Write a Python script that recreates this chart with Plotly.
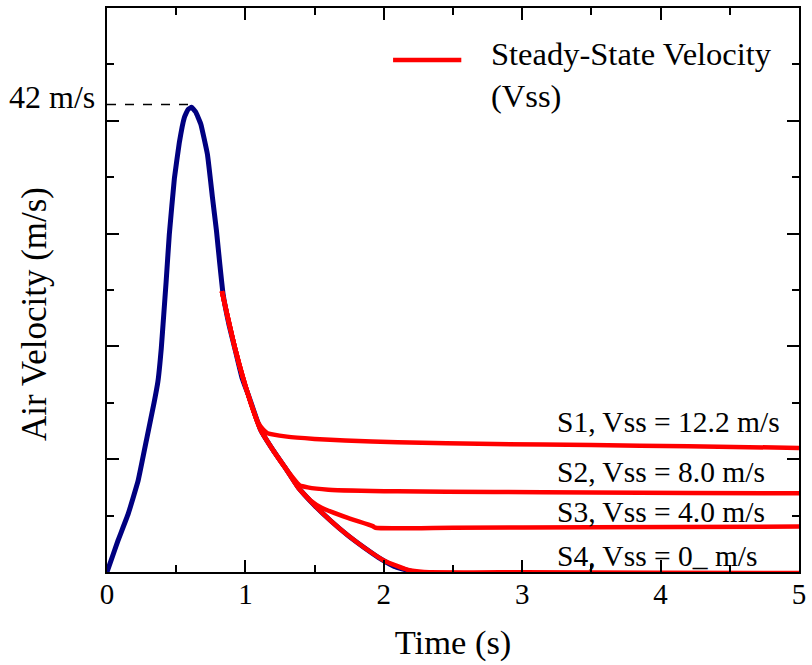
import plotly.graph_objects as go

# blue measured transient
t_blue = [0, 0.04, 0.08, 0.153, 0.225, 0.29, 0.34, 0.368, 0.392, 0.41, 0.427, 0.45, 0.487,
          0.523, 0.559, 0.585, 0.611, 0.64, 0.678, 0.726, 0.762, 0.791, 0.815, 0.838, 0.88,
          0.928, 0.976, 1.024, 1.11, 1.2, 1.29, 1.382, 1.5, 1.62, 1.74, 1.86, 1.96, 2.075,
          2.2, 2.3, 2.41]
v_blue = [0, 1.4, 2.8, 5.15, 8.1, 12.0, 15.0, 16.9, 19.8, 22.8, 25.7, 29.9, 34.9,
          38.1, 40.3, 41.0, 41.2, 40.8, 39.7, 37.0, 33.2, 30.25, 27.3, 24.7, 22.0,
          19.6, 17.2, 15.6, 12.6, 10.8, 9.2, 7.5, 5.9, 4.5, 3.25, 2.15, 1.3, 0.5,
          0.05, -0.15, -0.35]

# steady-state branches (red)
t_s1 = [0.83, 0.93, 1.02, 1.09, 1.13, 1.16, 1.3, 1.5, 1.72, 2.1, 2.8, 3.5, 4.2, 5.0]
v_s1 = [24.9, 19.6, 15.7, 13.3, 12.6, 12.3, 12.0, 11.8, 11.65, 11.5, 11.35, 11.25, 11.15, 11.0]

t_s2 = [0.83, 0.93, 1.02, 1.11, 1.2, 1.29, 1.39, 1.45, 1.6, 2.1, 2.8, 3.5, 4.2, 5.0]
v_s2 = [24.9, 19.6, 15.7, 12.6, 10.8, 9.2, 7.7, 7.5, 7.3, 7.15, 7.1, 7.05, 7.0, 6.98]

t_s3 = [0.83, 0.93, 1.02, 1.11, 1.2, 1.29, 1.38, 1.475, 1.55, 1.74, 1.92, 1.94, 2.5, 3.5, 5.0]
v_s3 = [24.9, 19.6, 15.7, 12.6, 10.8, 9.2, 7.5, 6.3, 5.7, 4.8, 4.07, 3.92, 3.93, 3.97, 4.03]

t_s4 = [0.83, 0.93, 1.02, 1.11, 1.2, 1.29, 1.38, 1.5, 1.62, 1.74, 1.86, 2.0, 2.17, 2.29,
        3.0, 4.0, 5.0]
v_s4 = [24.9, 19.6, 15.7, 12.6, 10.8, 9.2, 7.5, 5.9, 4.5, 3.25, 2.15, 1.03, 0.2, 0.0,
        -0.03, -0.06, -0.09]

labels = ["S1, Vss = 12.2 m/s", "S2, Vss = 8.0 m/s", "S3, Vss = 4.0 m/s", "S4, Vss = 0_ m/s"]
label_y = [13.3, 8.9, 5.3, 1.4]

PEAK_Y = 41.44
FONT = "Liberation Serif, Times New Roman, serif"
RED = "#ff0000"
NAVY = "#000080"

fig = go.Figure()
fig.add_trace(go.Scatter(x=t_blue, y=v_blue, mode="lines",
                         line=dict(color=NAVY, width=5, shape="spline", smoothing=0.3)))
for tx, vy in [(t_s1, v_s1), (t_s2, v_s2), (t_s3, v_s3), (t_s4, v_s4)]:
    fig.add_trace(go.Scatter(x=tx, y=vy, mode="lines",
                             line=dict(color=RED, width=4.5, shape="spline", smoothing=0.5)))

# peak marker
fig.add_shape(type="line", x0=0, x1=0.645, y0=PEAK_Y, y1=PEAK_Y,
              line=dict(color="black", width=1.5, dash="dash"))
fig.add_annotation(xref="paper", x=-0.014, y=42.1, xanchor="right", yanchor="middle",
                   text="42 m/s", showarrow=False, font=dict(size=32, color="black"))

for txt, yy in zip(labels, label_y):
    fig.add_annotation(x=3.24, y=yy, xanchor="left", yanchor="middle", text=txt,
                       showarrow=False, font=dict(size=29.5, color="black"))

# hand-made legend
fig.add_shape(type="line", xref="paper", yref="paper", x0=0.4134, x1=0.512, y0=0.908, y1=0.908,
              line=dict(color=RED, width=4.5))
fig.add_annotation(xref="paper", yref="paper", x=0.552, y=0.881, xanchor="left", yanchor="middle",
                   align="left", text="Steady-State Velocity<br>(Vss)", showarrow=False,
                   font=dict(size=32.5, color="black"))

# y title
fig.add_annotation(xref="paper", yref="paper", x=-0.105, y=0.458, textangle=-90,
                   xanchor="center", yanchor="middle", text="Air Velocity (m/s)",
                   showarrow=False, font=dict(size=35, color="black"))

axis_common = dict(showline=True, linecolor="black", linewidth=2, mirror="ticks",
                   ticks="inside", ticklen=12, tickwidth=1.5, tickcolor="black",
                   showgrid=False, zeroline=False)

fig.update_layout(
    width=812, height=665,
    margin=dict(l=107, r=6, t=6, b=93),
    plot_bgcolor="white", paper_bgcolor="white",
    showlegend=False,
    font=dict(family=FONT, color="black", size=29),
    xaxis=dict(range=[0, 5], dtick=1, tick0=0, ticklabelstandoff=-5,
               minor=dict(dtick=0.5, ticks="inside", ticklen=7, tickwidth=1.5, tickcolor="black"),
               title=dict(text="Time (s)", font=dict(size=34.5), standoff=21),
               tickfont=dict(size=29), **axis_common),
    yaxis=dict(range=[0, 50], dtick=10, tick0=0, showticklabels=False,
               minor=dict(dtick=5, ticks="inside", ticklen=7, tickwidth=1.5, tickcolor="black"),
               **axis_common),
)

# the page body has a default 8px margin; drop it so the figure fills the window
fig.write_html("out.html", config={"displayModeBar": False},
               post_script="document.body.style.margin='0px';")
